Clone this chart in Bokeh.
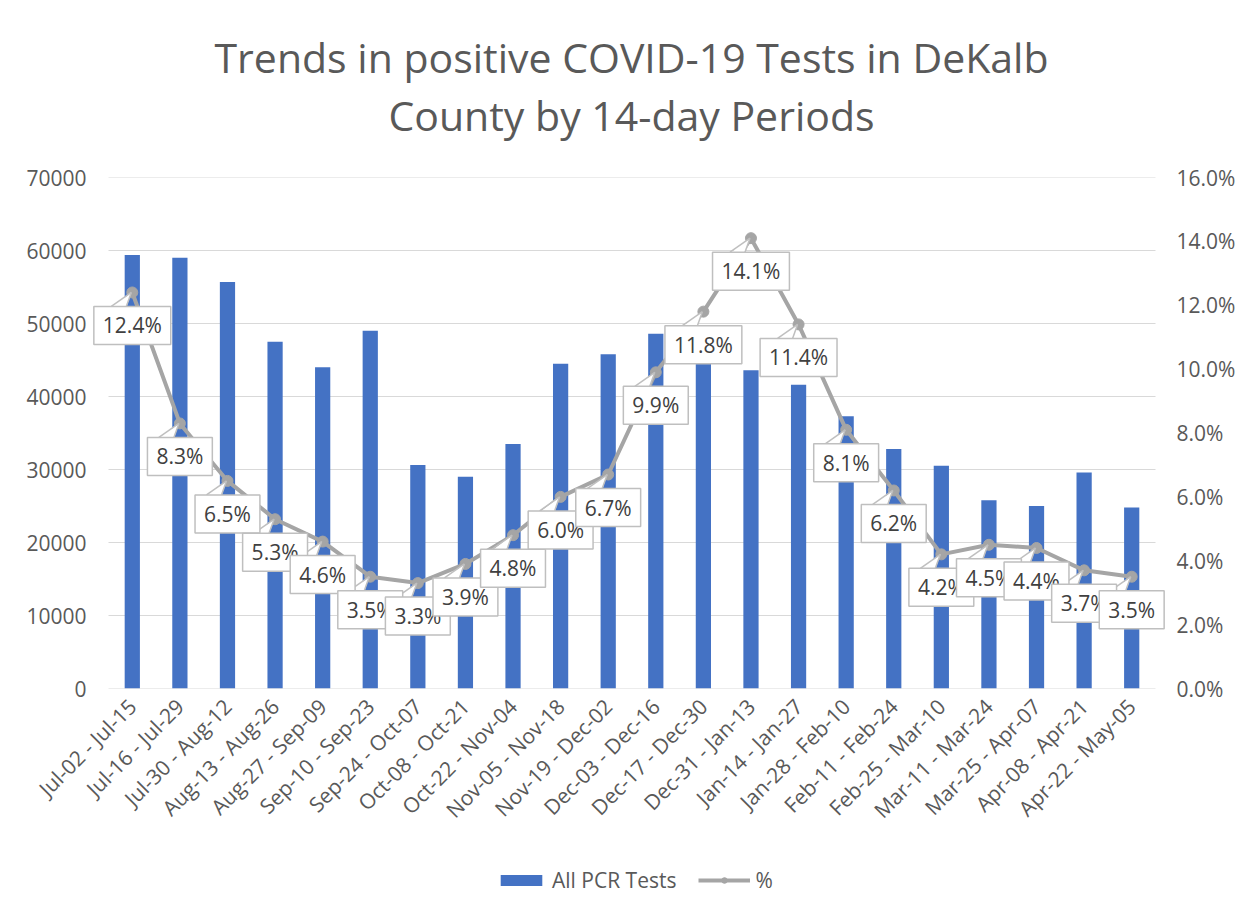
from math import pi
from bokeh.plotting import figure
from bokeh.layouts import column
from bokeh.models import (Range1d, LinearAxis, FixedTicker, PrintfTickFormatter,
                          NumeralTickFormatter, Legend, LegendItem, Label)
from bokeh.embed import file_html
from bokeh.resources import INLINE

periods = ["Jul-02 - Jul-15", "Jul-16 - Jul-29", "Jul-30 - Aug-12", "Aug-13 - Aug-26",
           "Aug-27 - Sep-09", "Sep-10 - Sep-23", "Sep-24 - Oct-07", "Oct-08 - Oct-21",
           "Oct-22 - Nov-04", "Nov-05 - Nov-18", "Nov-19 - Dec-02", "Dec-03 - Dec-16",
           "Dec-17 - Dec-30", "Dec-31 - Jan-13", "Jan-14 - Jan-27", "Jan-28 - Feb-10",
           "Feb-11 - Feb-24", "Feb-25 - Mar-10", "Mar-11 - Mar-24", "Mar-25 - Apr-07",
           "Apr-08 - Apr-21", "Apr-22 - May-05"]
all_pcr_tests = [59400, 59000, 55700, 47500, 44000, 49000, 30600, 29000, 33500, 44500, 45800,
                 48600, 45500, 43600, 41600, 37300, 32800, 30500, 25800, 25000, 29600, 24800]
pct_positive = [12.4, 8.3, 6.5, 5.3, 4.6, 3.5, 3.3, 3.9, 4.8, 6.0, 6.7,
                9.9, 11.8, 14.1, 11.4, 8.1, 6.2, 4.2, 4.5, 4.4, 3.7, 3.5]
left_ticks = [0, 10000, 20000, 30000, 40000, 50000, 60000, 70000]
right_ticks = [0, 2, 4, 6, 8, 10, 12, 14, 16]
title_lines = ["Trends in positive COVID-19 Tests in DeKalb", "County by 14-day Periods"]
legend_labels = ["All PCR Tests", "%"]

FONT = "Open Sans"
GREY_TXT = "#595959"
BAR_C = "#4472C4"
LINE_C = "#A5A5A5"
W = 1253
n = len(periods)
xs = list(range(n))
NAN = float("nan")

# geometry of the main chart frame (column layouts align all frames to it)
CAT_PX = 1047 / n           # pixels per category
EXT_L, EXT_R = 18, 14       # extra frame room so the outer callouts are not clipped
FRAME_L = 90
FRAME_W = 1047 + EXT_L + EXT_R
FRAME_H = 511

# ---------------- title strip ----------------
TH = 150
tf = figure(width=W, height=TH, x_range=Range1d(FRAME_L, FRAME_L + FRAME_W),
            y_range=Range1d(0, TH),
            x_axis_location=None, y_axis_location=None, min_border=0,
            output_backend="svg", toolbar_location=None, title=None)
tf.outline_line_color = None
tf.grid.visible = False
for txt, base in zip(title_lines, [TH - 56, TH - 114]):
    tf.add_layout(Label(x=631, y=base, text=txt, text_align="center",
                        text_baseline="alphabetic", text_font=FONT, text_font_size="41px",
                        text_color=GREY_TXT))

# ---------------- main chart ----------------
p = figure(width=W, height=688, frame_width=FRAME_W, frame_height=FRAME_H,
           x_range=Range1d(-0.5 - EXT_L / CAT_PX, n - 0.5 + EXT_R / CAT_PX),
           y_range=Range1d(0, 70000), title=None,
           output_backend="svg", toolbar_location=None,
           min_border_left=FRAME_L, min_border_right=W - FRAME_L - FRAME_W,
           min_border_top=27, min_border_bottom=150)
p.extra_y_ranges = {"pct": Range1d(0, 16)}
p.outline_line_color = None
p.grid.visible = False

# gridlines over the category span only (as in the original plot area)
p.segment(x0=[-0.5] * len(left_ticks), x1=[n - 0.5] * len(left_ticks),
          y0=left_ticks, y1=left_ticks, line_color="#D9D9D9", line_width=1)

ya = p.yaxis[0]
ya.ticker = FixedTicker(ticks=left_ticks)
ya.formatter = NumeralTickFormatter(format="0")
ya.axis_line_color = None
ya.major_tick_line_color = None
ya.minor_tick_line_color = None
ya.major_label_standoff = -2
ya.major_label_text_font = FONT
ya.major_label_text_font_size = "21px"
ya.major_label_text_color = GREY_TXT

xa = p.xaxis[0]
xa.ticker = FixedTicker(ticks=xs)
xa.major_label_overrides = {i: lab for i, lab in enumerate(periods)}
xa.major_label_orientation = pi / 4
xa.axis_line_color = None
xa.major_tick_line_color = None
xa.minor_tick_line_color = None
xa.major_label_standoff = 8
xa.major_label_text_font = FONT
xa.major_label_text_font_size = "21px"
xa.major_label_text_color = GREY_TXT

ra = LinearAxis(y_range_name="pct", ticker=FixedTicker(ticks=right_ticks),
                formatter=PrintfTickFormatter(format="%.1f%%"))
ra.axis_line_color = None
ra.major_tick_line_color = None
ra.minor_tick_line_color = None
ra.major_label_standoff = 1
ra.major_label_text_font = FONT
ra.major_label_text_font_size = "21px"
ra.major_label_text_color = GREY_TXT
p.add_layout(ra, "right")

p.vbar(x=xs, top=all_pcr_tests, width=0.32, fill_color=BAR_C, line_color=None)
p.line(xs, pct_positive, y_range_name="pct", line_color=LINE_C, line_width=4)
p.scatter(xs, pct_positive, y_range_name="pct", marker="circle", size=11,
          fill_color=LINE_C, line_color=LINE_C)

# data-label callouts (box + notch pointing at the marker), drawn label by label
PX_Y = FRAME_H / 16.0       # pixels per percent
BOX_DY = 33                 # px from the point down to the box centre
BOX_TOP = 14                # px from the point down to the box top edge
for i, v in zip(xs, pct_positive):
    p.add_layout(Label(x=i, y=v, y_range_name="pct", text=f"{v:.1f}%",
                       text_font=FONT, text_font_size="21px", text_color="#404040",
                       text_align="center", text_baseline="middle", y_offset=-BOX_DY,
                       background_fill_color="white", border_line_color="#BFBFBF",
                       border_line_width=1.5, padding=(9, 5)))
    bx0 = i - 21 / CAT_PX
    bx1 = i - 6 / CAT_PX
    by = v - (BOX_TOP + 1.2) / PX_Y
    byl = v - BOX_TOP / PX_Y
    tipx = i - 1 / CAT_PX
    p.patch([bx0, tipx, bx1], [by, v, by], y_range_name="pct",
            fill_color="white", line_color=None, level="annotation")
    p.multi_line([[bx0, tipx], [tipx, bx1]], [[byl, v], [v, byl]], y_range_name="pct",
                 line_color="#BFBFBF", line_width=1.5, level="annotation")

# ---------------- legend strip ----------------
LH = 915 - TH - 688
lf = figure(width=W, height=LH, x_range=Range1d(0, 1), y_range=Range1d(0, 1),
            x_axis_location=None, y_axis_location=None, min_border=0,
            output_backend="svg", toolbar_location=None, title=None)
lf.outline_line_color = None
lf.grid.visible = False
# legend proxies (not drawn: NaN data), styled like the chart series
lb = lf.vbar(x=[NAN], top=[NAN], width=0.3, fill_color=BAR_C, line_color=None)
ll = lf.line([NAN], [NAN], line_color=LINE_C, line_width=4)
lm = lf.scatter([NAN], [NAN], marker="circle", size=11, fill_color=LINE_C, line_color=LINE_C)
legend = Legend(items=[LegendItem(label=legend_labels[0], renderers=[lb]),
                       LegendItem(label=legend_labels[1], renderers=[ll, lm])],
                orientation="horizontal", location=(495 - FRAME_L, 21),
                label_text_font=FONT, label_text_font_size="21px", label_text_color=GREY_TXT,
                glyph_width=52, glyph_height=14, label_standoff=5, spacing=22, padding=0,
                border_line_color=None, background_fill_alpha=0, margin=0)
lf.add_layout(legend)

open("out.html", "w").write(file_html(column(tf, p, lf, spacing=0), INLINE))
